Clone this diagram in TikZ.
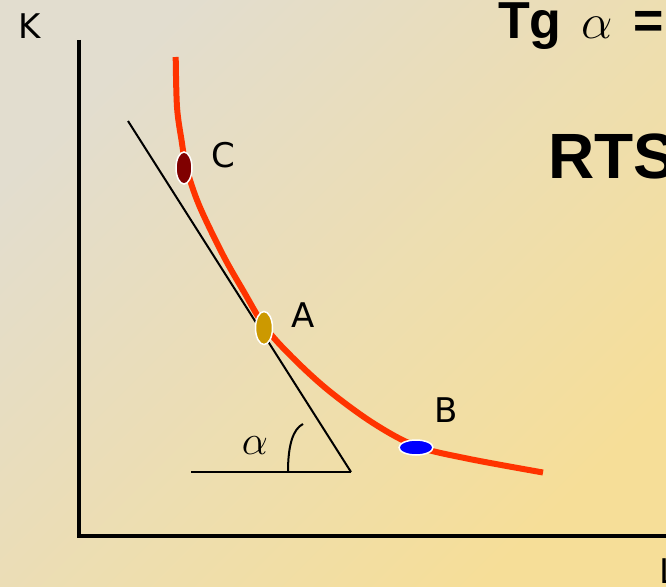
\documentclass[tikz,border=0pt]{standalone}
\usepackage{fontspec}
\setmainfont{DejaVu Sans}
\newfontfamily\boldsans{Liberation Sans}[BoldFont={* Bold}]
\usetikzlibrary{shapes.geometric}
\definecolor{bgtl}{RGB}{226,221,207}
\definecolor{bgbr}{RGB}{246,222,152}
\definecolor{curvered}{RGB}{255,51,0}
\definecolor{cdark}{RGB}{128,0,0}
\definecolor{agold}{RGB}{204,153,0}
\begin{document}
\begin{tikzpicture}[x=1pt,y=-1pt,
  lbl/.style={inner sep=0pt, anchor=base west, font=\fontsize{34}{36}\selectfont},
  big/.style={inner sep=0pt, anchor=base west, font=\boldsans\bfseries},
  pt/.style={ellipse, draw=white, line width=1.5pt, inner sep=0pt},
  thinline/.style={line width=2pt, black}]
\useasboundingbox (0,0) rectangle (666,586);
\shade[shading=axis, top color=bgtl, bottom color=bgbr, shading angle=45] (-1,-1) rectangle (667,587);
\clip (0,0) rectangle (666,586);
% axes
\coordinate (ytop) at (79,40);
\coordinate (origin) at (79,536);
\coordinate (xend) at (670,536);
\draw[line width=3.5pt] (ytop) -- (origin) -- (xend);
\node[lbl] (K) at (18,39) {K};
\node[lbl] (L) at (659,583) {L};
% indifference curve
\draw[curvered, line width=6pt] plot[smooth, tension=0.55] coordinates
  {(175.7,57) (177,107) (181.5,140) (186.5,168) (199,205) (223,255) (244,292) (265,327)
   (292,357) (328,390) (373,423) (416,446) (467,458.5) (543,472.5)};
% tangent and angle
\coordinate (t1) at (128,121);
\coordinate (t2) at (351,472);
\coordinate (h1) at (191,472);
\draw[thinline] (t1) -- (t2);
\draw[line width=2.5pt] (h1) -- (t2);
\coordinate (a1) at (288,472);
\coordinate (a2) at (303,424);
\draw[thinline] (a1) .. controls (288,445) and (293,429) .. (a2);
\node[inner sep=0pt, scale=2, font=\fontsize{20}{20}\selectfont] (alpha) at (255,446) {$\alpha$};
% points
\node[pt, fill=cdark, minimum width=16pt, minimum height=32pt] (C) at (184,168) {};
\node[pt, fill=agold, minimum width=17pt, minimum height=33pt] (A) at (264,328) {};
\node[pt, fill=blue, minimum width=34pt, minimum height=15pt] (B) at (416,447.5) {};
\node[lbl] (Clbl) at (211,167) {C};
\node[lbl] (Albl) at (291,327) {A};
\node[lbl] (Blbl) at (434,422) {B};
% formula texts
\node[big, font=\boldsans\bfseries\fontsize{52}{52}\selectfont] (Tg) at (498,39) {Tg};
\node[inner sep=0pt, anchor=base, scale=2.4, font=\fontsize{20}{20}\selectfont] (Tga) at (597,39) {$\alpha$};
\node[big, font=\boldsans\bfseries\fontsize{52}{52}\selectfont] (eq) at (633,39) {=};
\node[big, font=\boldsans\bfseries\fontsize{64}{64}\selectfont] (RTS) at (548,178) {RTS};
\end{tikzpicture}
\end{document}
